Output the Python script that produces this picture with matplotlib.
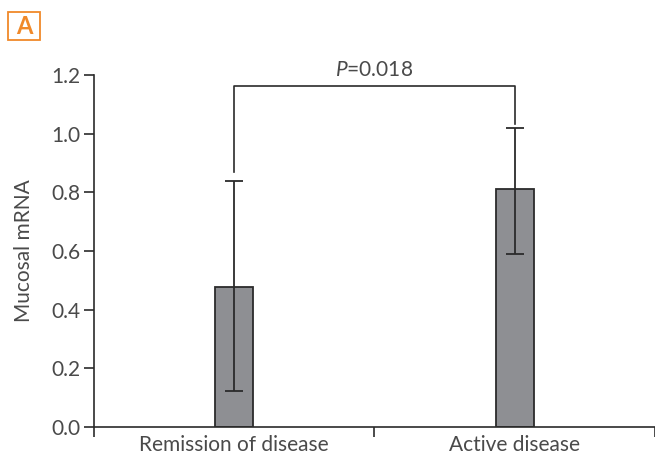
import numpy as np
import matplotlib.pyplot as plt
from matplotlib.patches import Rectangle

# du lieu doc tu hinh
groups = ["Remission of disease", "Active disease"]
means = [0.477, 0.811]
err_low = [0.355, 0.222]
err_high = [0.362, 0.208]
p_text = "0.018"
bracket_y = 1.163
bracket_left_end = 0.87
bracket_right_end = 1.033

plt.rcParams["font.family"] = ["Lato", "DejaVu Sans"]
plt.rcParams["mathtext.fontset"] = "custom"
plt.rcParams["mathtext.it"] = "Lato:italic"
plt.rcParams["mathtext.rm"] = "Lato"
txt = "#4a4a4a"
line = "#2b2b2b"

fig = plt.figure(figsize=(6.55, 4.59), dpi=100)
ax = fig.add_axes([0.1435, 0.0697, 0.8565, 0.7669])

x = np.arange(len(groups))
ax.bar(x, means, width=0.135, color="#8e8f93", edgecolor=line, linewidth=1.3, zorder=2)
ax.errorbar(x, means, yerr=[err_low, err_high], fmt="none", ecolor=line,
            elinewidth=1.3, capsize=6.5, capthick=1.3, zorder=3)

ax.set_xlim(-0.5, 1.5)
ax.set_ylim(0, 1.2)
ax.set_yticks(np.arange(0, 1.21, 0.2))
ax.set_yticklabels([f"{v:.1f}" for v in np.arange(0, 1.21, 0.2)])
ax.set_xticks([-0.5, 0.5, 1.5])
ax.set_xticklabels([])
ax.set_xticks(x, minor=True)
ax.set_xticklabels(groups, minor=True)
ax.tick_params(axis="x", which="minor", length=0, labelsize=15, colors=txt, pad=6)
ax.tick_params(axis="x", which="major", length=7, width=1.2, color=line)
ax.tick_params(axis="y", length=7, width=1.2, color=line, labelsize=15, labelcolor=txt, pad=3)
for s in ["top", "right"]:
    ax.spines[s].set_visible(False)
for s in ["left", "bottom"]:
    ax.spines[s].set_color(line)
    ax.spines[s].set_linewidth(1.2)
ax.set_ylabel("Mucosal mRNA", fontsize=15, color=txt, labelpad=12)

# ngoac so sanh
ax.plot([0, 0, 1, 1], [bracket_left_end, bracket_y, bracket_y, bracket_right_end],
        color=line, lw=1.2, clip_on=False)
ax.text(0.5, bracket_y + 0.02, "$\\mathit{P}$=" + p_text, ha="center", va="bottom",
        fontsize=15, color=txt, clip_on=False)

# nhan panel A
orange = "#f0892a"
fig.patches.append(Rectangle((8 / 655, 1 - 40 / 459), 32 / 655, 28 / 459,
                             transform=fig.transFigure, fill=False,
                             edgecolor=orange, lw=1.3))
fig.text(24 / 655, 1 - 26 / 459, "A", ha="center", va="center", fontsize=17,
         fontweight="bold", color=orange)

fig.savefig("out.png", dpi=100)
